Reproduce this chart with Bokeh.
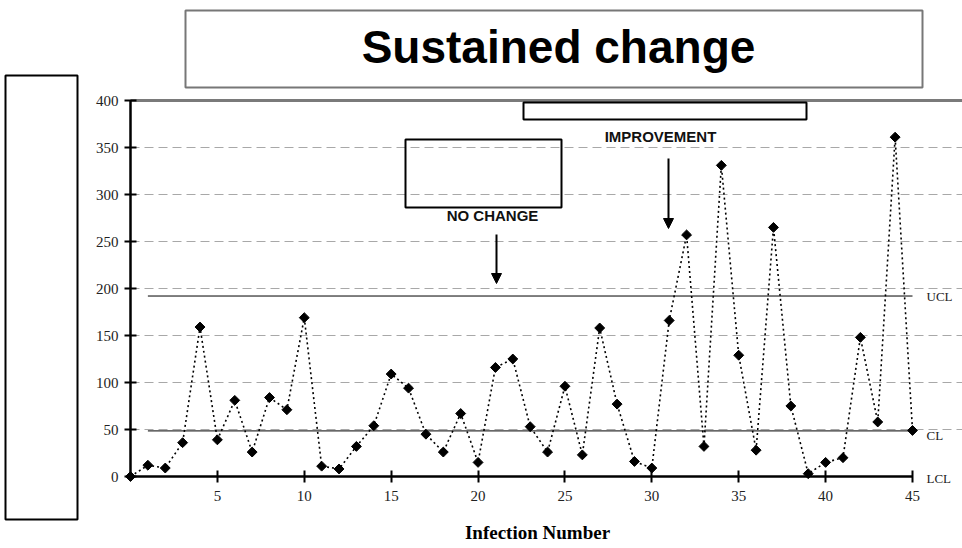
from bokeh.plotting import figure
from bokeh.models import (Range1d, FixedTicker, BoxAnnotation, Label, Arrow,
                          NormalHead, ColumnDataSource, LinearAxis)
from bokeh.core.properties import value
from bokeh.embed import file_html
from bokeh.resources import INLINE
import math

# ---- data ----
infection = list(range(0, 46))
values = [0, 12, 9, 36, 159, 39, 81, 26, 84, 71, 169, 11, 8, 32, 54,
          109, 94, 45, 26, 67, 15, 116, 125, 53, 26, 96, 23, 158, 77, 16,
          9, 166, 257, 32, 331, 129, 28, 265, 75, 3, 15, 20, 148, 58, 361, 49]
ucl_value = 192
cl_value = 48.5
lcl_value = 0
limit_names = ["UCL", "CL", "LCL"]
limit_values = [ucl_value, cl_value, lcl_value]
x_ticks = [5, 10, 15, 20, 25, 30, 35, 40, 45]
y_ticks = [0, 50, 100, 150, 200, 250, 300, 350, 400]
grid_values = [50, 100, 150, 200, 250, 300, 350]

SERIF = "Liberation Serif"
SANS = "Liberation Sans"

W, H = 962, 548
X0_PX, X45_PX = 130, 912
Y0_PX, Y400_PX = 476, 100
PX_PER_X = (X45_PX - X0_PX) / 45.0
PX_PER_Y = (Y0_PX - Y400_PX) / 400.0


def dx(px):
    return (px - X0_PX) / PX_PER_X


def dy(py):
    return (Y0_PX - py) / PX_PER_Y


p = figure(width=W, height=H, output_backend="svg", toolbar_location=None,
           x_range=Range1d(dx(0), dx(W)), y_range=Range1d(dy(H), dy(0)),
           x_axis_location=None, y_axis_location=None,
           min_border=0, min_border_left=0, min_border_right=0,
           min_border_top=0, min_border_bottom=0)
p.outline_line_color = None
p.background_fill_color = "white"
p.border_fill_color = "white"
p.grid.visible = False

# grid lines (dashed) and top border line
p.segment(x0=0, x1=dx(W), y0=grid_values, y1=grid_values, line_color="#a8a8a8",
          line_width=1, line_dash="9 5")
p.segment(x0=[0], x1=[dx(W)], y0=[400], y1=[400], line_color="#7a7a7a", line_width=3)

# control limits
p.line([1, 45], [ucl_value, ucl_value], line_color="black", line_width=1)
p.line([1, 45], [cl_value, cl_value], line_color="black", line_width=1)
label_px_offsets = [0, 5, 2]
limit_src = ColumnDataSource(dict(x=[dx(926)] * 3,
                                  y=[v - o / PX_PER_Y for v, o in zip(limit_values, label_px_offsets)],
                                  t=limit_names))
p.text(x="x", y="y", text="t", source=limit_src, text_font=value(SERIF),
       text_font_size="13px", text_baseline="middle", text_align="left",
       text_color="#222222")

# series
p.line(infection, values, line_color="black", line_width=1.6, line_dash="2 3")
p.scatter(infection, values, marker="square", angle=math.pi / 4, size=7,
          fill_color="black", line_color="black")

# axes drawn at fixed locations inside the frame
xaxis = LinearAxis(fixed_location=0, bounds=(0, 45), ticker=FixedTicker(ticks=x_ticks))
yaxis = LinearAxis(fixed_location=0, bounds=(0, 400), ticker=FixedTicker(ticks=y_ticks))
for ax in (xaxis, yaxis):
    ax.axis_line_width = 2.5
    ax.axis_line_color = "black"
    ax.major_tick_line_width = 2
    ax.major_tick_line_color = "black"
    ax.major_tick_in = 6
    ax.major_tick_out = 6
    ax.minor_tick_line_color = None
    ax.major_label_text_font = SERIF
    ax.major_label_text_font_size = "15px"
    ax.major_label_text_color = "#222222"
xaxis.major_label_standoff = 8
yaxis.major_label_standoff = 6
p.add_layout(xaxis, "below")
p.add_layout(yaxis, "left")

# annotation boxes
def box(l, r, t, b, color="black", width=2):
    return BoxAnnotation(left=dx(l), right=dx(r), top=dy(t), bottom=dy(b),
                         fill_color=None, fill_alpha=0, line_color=color,
                         line_alpha=1.0, line_width=width, level="overlay")

p.add_layout(box(405, 561, 139, 207))
p.add_layout(box(523, 806, 102, 119))
p.add_layout(box(185, 922, 10, 87, color="#777777"))
p.add_layout(box(5, 77, 75, 519))

p.add_layout(Label(x=dx(492), y=dy(215), text="NO CHANGE", text_font=SANS,
                   text_font_style="bold", text_font_size="15px",
                   text_align="center", text_baseline="middle", text_color="#111111"))
p.add_layout(Label(x=dx(660), y=dy(136), text="IMPROVEMENT", text_font=SANS,
                   text_font_style="bold", text_font_size="15px",
                   text_align="center", text_baseline="middle", text_color="#111111"))
p.add_layout(Arrow(x_start=dx(496), y_start=dy(234), x_end=dx(496), y_end=dy(283),
                   line_color="black", line_width=2,
                   end=NormalHead(size=10, fill_color="black", line_color="black")))
p.add_layout(Arrow(x_start=dx(668), y_start=dy(158), x_end=dx(668), y_end=dy(228),
                   line_color="black", line_width=2,
                   end=NormalHead(size=10, fill_color="black", line_color="black")))

p.add_layout(Label(x=dx(558), y=dy(46), text="Sustained change", text_font=SANS,
                   text_font_style="bold", text_font_size="46px", text_align="center",
                   text_baseline="middle", text_color="black"))
p.add_layout(Label(x=dx(537), y=dy(532), text="Infection Number", text_font=SERIF,
                   text_font_style="bold", text_font_size="19px", text_align="center",
                   text_baseline="middle", text_color="black"))

open("out.html", "w").write(file_html(p, INLINE))
